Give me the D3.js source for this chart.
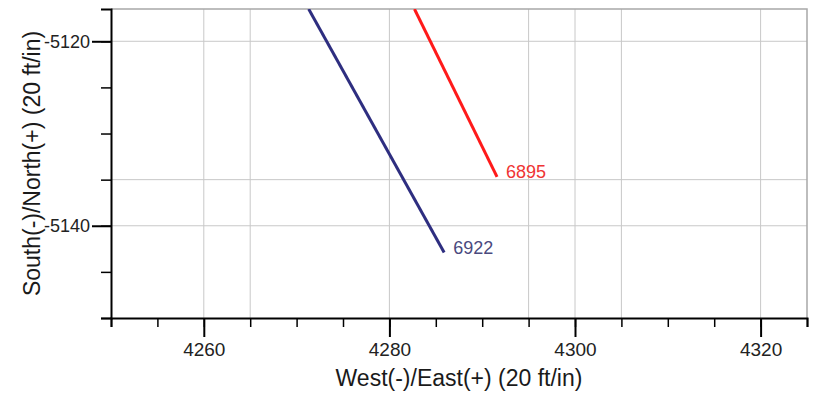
<!DOCTYPE html>
<html>
<head>
<meta charset="utf-8">
<script src="https://cdn.jsdelivr.net/npm/d3@7"></script>
<style>
  body { margin: 0; background: #fff; }
  svg { display: block; font-family: "Liberation Sans", Arial, sans-serif; }
</style>
</head>
<body>
<svg id="chart" width="819" height="400"></svg>
<script>
// well paths, plan view (x = east, y = north)
var wellNames = ["6922", "6895"];
var wellColors = ["#2e2e80", "#ff1a1a"];
var labelColors = ["#4a4a7e", "#ef3434"];
var wellEast = [[4271.3, 4285.9], [4282.7, 4291.6]];
var wellNorth = [[-5116.5, -5142.9], [-5116.5, -5134.7]];

var xDomain = [4250, 4325];
var yDomain = [-5150, -5116.5];
var xMajor = [4260, 4280, 4300, 4320];
var yMajor = [-5120, -5140];
var xGrid = [4260, 4265, 4280, 4295, 4300, 4305, 4320];
var yGrid = [-5120, -5135, -5140];

var margin = { top: 9, right: 12, bottom: 82, left: 111 };
var width = 819, height = 400;

var x = d3.scaleLinear().domain(xDomain).range([margin.left, width - margin.right]);
var y = d3.scaleLinear().domain(yDomain).range([height - margin.bottom, margin.top]);

var svg = d3.select("#chart");
var fmt = function (d) { return String(d); };

svg.append("clipPath").attr("id", "plotClip")
    .append("rect")
    .attr("x", margin.left).attr("y", margin.top)
    .attr("width", x.range()[1] - x.range()[0])
    .attr("height", y.range()[0] - y.range()[1]);

// grid
svg.append("g").attr("stroke", "#c8c8c8").attr("stroke-width", 1)
    .selectAll("line").data(xGrid).join("line")
    .attr("x1", function (d) { return x(d); }).attr("x2", function (d) { return x(d); })
    .attr("y1", y.range()[1]).attr("y2", y.range()[0]);
svg.append("g").attr("stroke", "#c8c8c8").attr("stroke-width", 1)
    .selectAll("line").data(yGrid).join("line")
    .attr("y1", function (d) { return y(d); }).attr("y2", function (d) { return y(d); })
    .attr("x1", x.range()[0]).attr("x2", x.range()[1]);

// frame top/right
svg.append("path")
    .attr("d", "M" + x.range()[0] + "," + y.range()[1] + "H" + x.range()[1] + "V" + y.range()[0])
    .attr("fill", "none").attr("stroke", "#a8a8a8").attr("stroke-width", 1.5);

// minor ticks every 5
var xMinor = d3.range(xDomain[0], xDomain[1] + 0.1, 5);
var yMinor = d3.range(-5150, -5119, 5);

var xAxisMinor = function (g) { return g
    .attr("transform", "translate(0," + y.range()[0] + ")")
    .call(d3.axisBottom(x).tickValues(xMinor).tickSize(9).tickFormat(""))
    .call(function (g) { g.select(".domain").attr("stroke-width", 2); })
    .selectAll(".tick line").attr("stroke-width", 1.5); };
var xAxisMajor = function (g) { return g
    .attr("transform", "translate(0," + y.range()[0] + ")")
    .call(d3.axisBottom(x).tickValues(xMajor).tickSize(19).tickPadding(6).tickFormat(fmt))
    .call(function (g) { g.select(".domain").remove(); })
    .call(function (g) { g.selectAll(".tick line").attr("stroke-width", 2); })
    .selectAll("text").attr("font-size", "19px").attr("fill", "#222"); };
var yAxisMinor = function (g) { return g
    .attr("transform", "translate(" + x.range()[0] + ",0)")
    .call(d3.axisLeft(y).tickValues(yMinor).tickSize(10).tickFormat(""))
    .call(function (g) { g.select(".domain").attr("stroke-width", 2); })
    .selectAll(".tick line").attr("stroke-width", 1.5); };
var yAxisMajor = function (g) { return g
    .attr("transform", "translate(" + x.range()[0] + ",0)")
    .call(d3.axisLeft(y).tickValues(yMajor).tickSize(19).tickPadding(2).tickFormat(fmt))
    .call(function (g) { g.select(".domain").remove(); })
    .call(function (g) { g.selectAll(".tick line").attr("stroke-width", 2); })
    .selectAll("text").attr("font-size", "18px").attr("fill", "#222"); };

// well paths
var wells = wellNames.map(function (name, i) {
    return {
        name: name,
        color: wellColors[i],
        labelColor: labelColors[i],
        pts: wellEast[i].map(function (e, j) { return [e, wellNorth[i][j]]; })
    };
});
var line = d3.line().x(function (d) { return x(d[0]); }).y(function (d) { return y(d[1]); });

svg.append("g").attr("clip-path", "url(#plotClip)")
    .selectAll("path").data(wells).join("path")
    .attr("d", function (d) { return line(d.pts); })
    .attr("fill", "none")
    .attr("stroke", function (d) { return d.color; })
    .attr("stroke-width", 3);

svg.append("g")
    .style("font", "18px 'Liberation Sans', Arial, sans-serif")
    .selectAll("text").data(wells).join("text")
    .attr("x", function (d) { var p = d.pts[d.pts.length - 1]; return x(p[0]) + 9; })
    .attr("y", function (d) { var p = d.pts[d.pts.length - 1]; return y(p[1]) - 5; })
    .attr("dy", "0.35em")
    .attr("fill", function (d) { return d.labelColor; })
    .text(function (d) { return d.name; });

svg.append("g").call(xAxisMinor);
svg.append("g").call(xAxisMajor);
svg.append("g").call(yAxisMinor);
svg.append("g").call(yAxisMajor);

// axis titles
svg.append("text")
    .attr("x", (x.range()[0] + x.range()[1]) / 2)
    .attr("y", 386)
    .attr("text-anchor", "middle")
    .attr("font-size", "23px")
    .attr("fill", "#1a1a1a")
    .text("West(-)/East(+) (20 ft/in)");
svg.append("text")
    .attr("transform", "translate(40," + (y.range()[0] + y.range()[1]) / 2 + ") rotate(-90)")
    .attr("text-anchor", "middle")
    .attr("font-size", "23px")
    .attr("fill", "#1a1a1a")
    .text("South(-)/North(+) (20 ft/in)");
</script>
</body>
</html>
